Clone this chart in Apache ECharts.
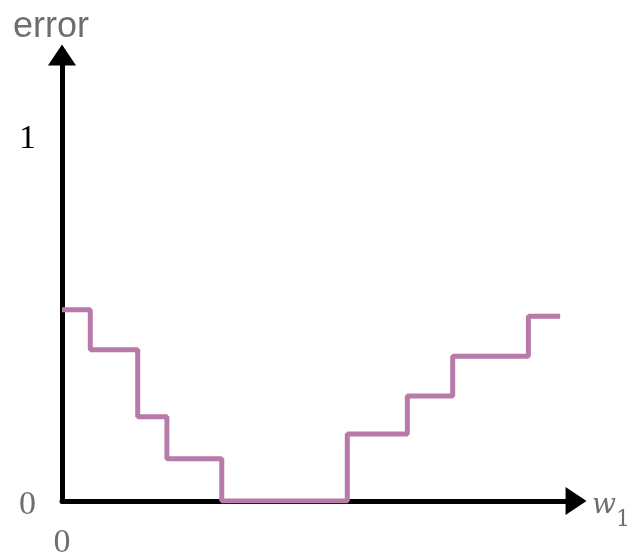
<!DOCTYPE html>
<html>
<head>
<meta charset="utf-8">
<script src="https://cdn.jsdelivr.net/npm/echarts@6/dist/echarts.min.js"></script>
<style>html,body{margin:0;padding:0;background:#fff}#c{width:633px;height:560px}</style>
</head>
<body>
<div id="c"></div>
<script>
// Step breakpoints (w1) and error value of the segment starting at each breakpoint
const wBreaks = [0, 0.285, 0.763, 1.057, 1.61, 2.875, 3.48, 3.937, 4.70, 5.02];
const errorValues = [0.529, 0.418, 0.233, 0.117, 0, 0.185, 0.290, 0.400, 0.511, 0.511];
const yTickLabels = ['0', '1'];
const xTickLabels = ['0'];

const data = wBreaks.map((w, i) => [w, errorValues[i]]);
const chart = echarts.init(document.getElementById('c'));
chart.setOption({
  animation: false,
  backgroundColor: '#fff',
  grid: { left: 62, right: 53, top: 55, bottom: 55, containLabel: false },
  xAxis: {
    type: 'value', min: 0, max: 5.18, interval: 10,
    splitLine: { show: false },
    axisTick: { show: false },
    axisLine: { show: true, onZero: false, symbol: ['none', 'triangle'], symbolSize: [28, 21],
      lineStyle: { color: '#000', width: 5 } },
    axisLabel: { margin: 25, fontFamily: 'Liberation Serif', fontSize: 34, color: '#6e6e6e',
      formatter: v => (Number(v) === 0 ? xTickLabels[0] : '') },
    name: '{w|w}{s|1}', nameLocation: 'end', nameGap: 16,
    nameTextStyle: { verticalAlign: 'middle', rich: {
      w: { fontFamily: 'DejaVu Serif', fontStyle: 'italic', fontSize: 28, lineHeight: 28, color: '#6e6e6e', padding: [24, 0, 14, 0] },
      s: { fontFamily: 'DejaVu Serif', fontSize: 22, lineHeight: 22, color: '#6e6e6e', padding: [41, 0, 3, 0] }
    } }
  },
  yAxis: {
    type: 'value', min: 0, max: 1.233, interval: 1,
    splitLine: { show: false },
    axisTick: { show: false },
    axisLine: { show: true, onZero: false, symbol: ['none', 'triangle'], symbolSize: [28, 21],
      lineStyle: { color: '#000', width: 5 } },
    axisLabel: { margin: 26, fontFamily: 'Liberation Serif', fontSize: 34, color: '#000',
      formatter: v => {
        const n = Number(v);
        if (n === 0) return '{z|' + yTickLabels[0] + '}';
        if (n === 1) return yTickLabels[1];
        return '';
      },
      rich: { z: { fontFamily: 'Liberation Serif', fontSize: 34, color: '#6e6e6e', padding: [9, 0, 0, 0] } } },
    name: 'error', nameLocation: 'end', nameGap: 10,
    nameTextStyle: { fontFamily: 'Liberation Sans', fontSize: 36, color: '#6e6e6e', padding: [0, 22, 0, 0] }
  },
  series: [{
    type: 'line', step: 'end', data: data, showSymbol: false, symbol: 'none',
    lineStyle: { color: '#b87aa8', width: 5 }
  }]
});
</script>
</body>
</html>
